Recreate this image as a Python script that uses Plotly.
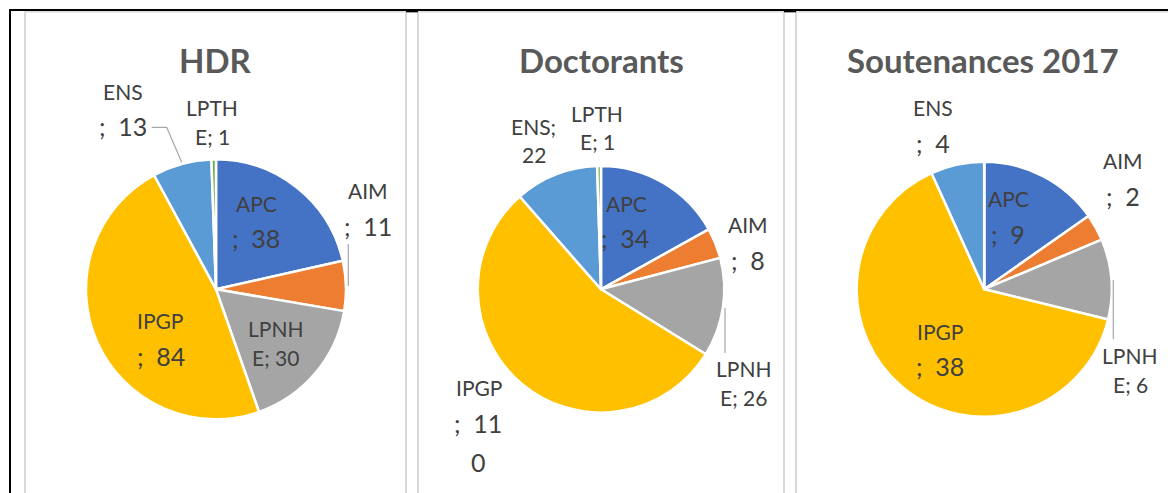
import plotly.graph_objects as go

# ---------------- data ----------------
categories = ["APC", "AIM", "LPNHE", "IPGP", "ENS", "LPTHE"]
hdr_values = [38, 11, 30, 84, 13, 1]
doctorants_values = [34, 8, 26, 110, 22, 1]
soutenances_values = [9, 2, 6, 38, 4, 0]
chart_titles = ["HDR", "Doctorants", "Soutenances 2017"]

# ---------------- style / layout ----------------
W, H = 1168, 493
colors = ["#4472C4", "#ED7D31", "#A5A5A5", "#FFC000", "#5B9BD5", "#70AD47"]
FONT = "Lato, Carlito, 'Open Sans', sans-serif"
LABEL_COLOR = "#404040"
TITLE_COLOR = "#595959"


def px(x):
    return x / W


def py(y):
    return 1 - y / H


# pie geometry in pixels: (center x, center y, radius)
pie_geom = [(216.0, 289.3, 130.0), (601.0, 289.3, 123.3), (984.2, 289.2, 127.5)]
title_pos = [(215.5, 60.5), (601.5, 60.5), (983.0, 60.5)]

# label layout: category -> (cut indices into "NAME; value", [(x, y), ...] per line)
label_layout = [
    {
        "ENS": ([3], [(122.7, 91.3), (122.7, 125.8)]),
        "LPTHE": ([4], [(211.7, 107.5), (212.0, 136.7)]),
        "APC": ([3], [(256.3, 203.8), (256.3, 238.3)]),
        "AIM": ([3], [(368.3, 190.8), (367.5, 225.8)]),
        "IPGP": ([4], [(160.2, 320.8), (160.5, 355.8)]),
        "LPNHE": ([4], [(275.0, 328.3), (275.8, 357.5)]),
    },
    {
        "ENS": ([4], [(533.8, 126.7), (534.0, 154.2)]),
        "LPTHE": ([4], [(596.8, 113.2), (597.5, 141.5)]),
        "APC": ([3], [(626.0, 203.3), (625.0, 238.3)]),
        "AIM": ([3], [(748.3, 224.5), (747.8, 259.5)]),
        "LPNHE": ([4], [(743.0, 368.8), (743.3, 397.2)]),
        "IPGP": ([4, 8], [(479.0, 387.8), (478.3, 422.5), (478.8, 462.3)]),
    },
    {
        "ENS": ([3], [(933.3, 107.5), (932.5, 143.3)]),
        "AIM": ([3], [(1123.3, 160.8), (1123.0, 196.2)]),
        "APC": ([3], [(1008.7, 198.7), (1007.5, 233.7)]),
        "IPGP": ([4], [(939.7, 331.7), (939.7, 366.0)]),
        "LPNHE": ([4], [(1129.2, 355.3), (1130.0, 384.2)]),
    },
]

# leader lines (pixel polylines)
leaders = [
    [(151.7, 127.3), (166.7, 127.3), (181.7, 162.3)],
    [(348.3, 244.0), (348.3, 286.0)],
    [(725.0, 308.0), (725.0, 353.0)],
    [(1113.3, 280.0), (1113.3, 339.0)],
]

all_values = [hdr_values, doctorants_values, soutenances_values]

fig = go.Figure()

for (cx, cy, r), vals in zip(pie_geom, all_values):
    fig.add_trace(
        go.Pie(
            labels=categories,
            values=vals,
            sort=False,
            direction="clockwise",
            rotation=0,
            marker=dict(colors=colors, line=dict(color="white", width=2.5)),
            textinfo="none",
            showlegend=False,
            domain=dict(x=[px(cx - r), px(cx + r)], y=[py(cy + r), py(cy - r)]),
        )
    )

annotations = []
for (tx, ty), title in zip(title_pos, chart_titles):
    annotations.append(
        dict(
            x=px(tx), y=py(ty), xref="paper", yref="paper",
            text=f"<b>{title}</b>", showarrow=False,
            xanchor="center", yanchor="middle",
            font=dict(family=FONT, size=33, color=TITLE_COLOR),
        )
    )

for layout, vals in zip(label_layout, all_values):
    for cat, (cuts, positions) in layout.items():
        val = vals[categories.index(cat)]
        full = f"{cat}; {val}"
        bounds = [0] + cuts + [len(full)]
        lines = [full[bounds[i]:bounds[i + 1]].strip() for i in range(len(bounds) - 1)]
        for line, (lx, ly) in zip(lines, positions):
            big = line.startswith(";") or (line.isdigit() and len(lines) > 2)
            text = line.replace("; ", ";  ") if line.startswith(";") else line
            annotations.append(
                dict(
                    x=px(lx), y=py(ly), xref="paper", yref="paper",
                    text=text, showarrow=False,
                    xanchor="center", yanchor="middle",
                    font=dict(family=FONT, size=25 if big else 21, color=LABEL_COLOR),
                )
            )

shapes = []
for pts in leaders:
    path = "M " + " L ".join(f"{px(x)},{py(y)}" for x, y in pts)
    shapes.append(dict(type="path", xref="paper", yref="paper", path=path,
                       line=dict(color="#A6A6A6", width=1.2)))

GRAY = "#D9D9D9"
# chart-area borders (light gray)
for gx in [25, 406, 418, 784, 796]:
    shapes.append(dict(type="line", xref="paper", yref="paper",
                       x0=px(gx), x1=px(gx), y0=py(11.5), y1=py(H + 5),
                       line=dict(color=GRAY, width=2)))
shapes.append(dict(type="line", xref="paper", yref="paper",
                   x0=px(25), x1=px(W + 5), y0=py(11.8), y1=py(11.8),
                   line=dict(color=GRAY, width=1.5)))
# table border (black)
shapes.append(dict(type="line", xref="paper", yref="paper",
                   x0=px(9), x1=px(W + 5), y0=py(10), y1=py(10),
                   line=dict(color="black", width=2)))
shapes.append(dict(type="line", xref="paper", yref="paper",
                   x0=px(10), x1=px(10), y0=py(9), y1=py(H + 5),
                   line=dict(color="black", width=2)))
for x0, x1 in [(406, 418), (784, 796)]:
    shapes.append(dict(type="line", xref="paper", yref="paper",
                       x0=px(x0), x1=px(x1), y0=py(10.8), y1=py(10.8),
                       line=dict(color="black", width=3)))

fig.update_layout(
    width=W, height=H,
    margin=dict(l=0, r=0, t=0, b=0),
    paper_bgcolor="white", plot_bgcolor="white",
    annotations=annotations, shapes=shapes,
    font=dict(family=FONT, color=LABEL_COLOR),
)

fig.write_html(
    "out.html",
    config={"displayModeBar": False},
    post_script="document.body.style.margin='0';document.body.style.overflow='hidden';",
)
